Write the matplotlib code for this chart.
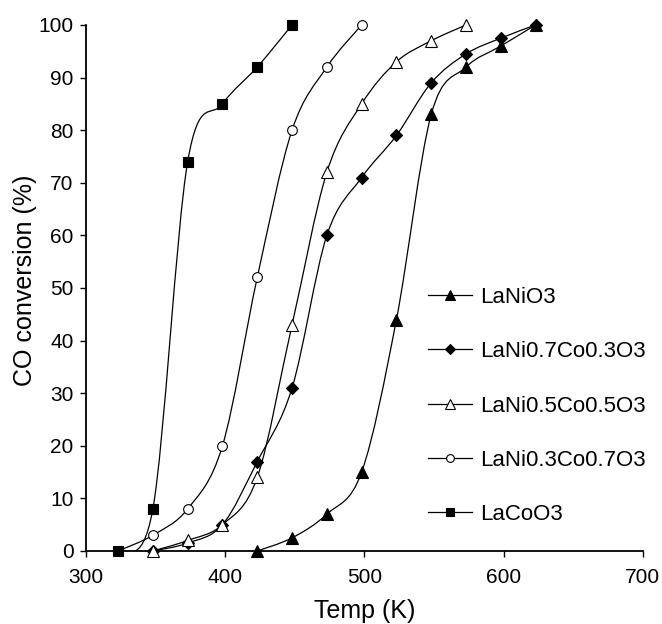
"""CO conversion vs temperature for LaNi(1-x)Co(x)O3 perovskites."""

import matplotlib
matplotlib.use("Agg")
import matplotlib.pyplot as plt
import numpy as np
from matplotlib.lines import Line2D
from matplotlib.patches import PathPatch
from matplotlib.path import Path

plt.rcParams["font.family"] = ["Liberation Sans", "DejaVu Sans"]

# --- data ---
temp_lanio3 = [423, 448, 473, 498, 523, 548, 573, 598, 623]
conv_lanio3 = [0, 2.5, 7, 15, 44, 83, 92, 96, 100]

temp_ni07 = [348, 373, 398, 423, 448, 473, 498, 523, 548, 573, 598, 623]
conv_ni07 = [0, 1.5, 5, 17, 31, 60, 71, 79, 89, 94.5, 97.5, 100]

temp_ni05 = [348, 373, 398, 423, 448, 473, 498, 523, 548, 573]
conv_ni05 = [0, 2, 5, 14, 43, 72, 85, 93, 97, 100]

temp_ni03 = [323, 348, 373, 398, 423, 448, 473, 498]
conv_ni03 = [0, 3, 8, 20, 52, 80, 92, 100]

temp_lacoo3 = [323, 348, 373, 398, 423, 448]
conv_lacoo3 = [0, 8, 74, 85, 92, 100]

labels = ["LaNiO3", "LaNi0.7Co0.3O3", "LaNi0.5Co0.5O3", "LaNi0.3Co0.7O3", "LaCoO3"]
x_ticks = [300, 400, 500, 600, 700]
y_ticks = list(range(0, 101, 10))


def smooth_path(xs, ys):
    """Bezier path through the points (Catmull-Rom style, like a spreadsheet 'smoothed line')."""
    pts = np.column_stack([xs, ys]).astype(float)
    verts = [pts[0]]
    codes = [Path.MOVETO]
    n = len(pts)
    for i in range(n - 1):
        p0 = pts[i - 1] if i > 0 else pts[i]
        p1 = pts[i]
        p2 = pts[i + 1]
        p3 = pts[i + 2] if i + 2 < n else pts[i + 1]
        c1 = p1 + (p2 - p0) / 6.0
        c2 = p2 - (p3 - p1) / 6.0
        verts += [c1, c2, p2]
        codes += [Path.CURVE4] * 3
    return Path(verts, codes)


series = [
    (temp_lanio3, conv_lanio3, "^", "black", 8.5),
    (temp_ni07, conv_ni07, "D", "black", 6.5),
    (temp_ni05, conv_ni05, "^", "white", 8.5),
    (temp_ni03, conv_ni03, "o", "white", 7),
    (temp_lacoo3, conv_lacoo3, "s", "black", 7),
]

fig = plt.figure(figsize=(6.62, 6.24), dpi=100)
ax = fig.add_axes([0.13, 0.117, 0.841, 0.843])

handles = []
for (xs, ys, marker, face, size), label in zip(series, labels):
    patch = PathPatch(smooth_path(xs, ys), facecolor="none", edgecolor="black",
                      linewidth=0.9, transform=ax.transData, zorder=2)
    ax.add_patch(patch)
    ax.plot(xs, ys, linestyle="none", marker=marker, markersize=size,
            markerfacecolor=face, markeredgecolor="black", markeredgewidth=0.8,
            clip_on=False, zorder=3)
    handles.append(Line2D([], [], color="black", linewidth=0.9, marker=marker,
                          markersize=size * 0.8, markerfacecolor=face,
                          markeredgecolor="black", markeredgewidth=0.8))

ax.set_xlim(300, 700)
ax.set_ylim(0, 100)
ax.set_xticks(x_ticks)
ax.set_yticks(y_ticks)
ax.spines["top"].set_visible(False)
ax.spines["right"].set_visible(False)
ax.spines["left"].set_linewidth(1.3)
ax.spines["bottom"].set_linewidth(1.3)
ax.tick_params(direction="out", length=4, width=1, labelsize=15, pad=5)
ax.tick_params(axis="x", pad=8)
ax.set_xlabel("Temp (K)", fontsize=18, labelpad=9)
ax.set_ylabel("CO conversion (%)", fontsize=18, labelpad=3)
ax.yaxis.set_label_coords(-0.088, 0.515)

ax.legend(handles, labels, loc="upper left", bbox_to_anchor=(0.614, 0.502),
          frameon=False, fontsize=16, handlelength=2.0, handletextpad=0.35,
          labelspacing=1.5, numpoints=1, borderaxespad=0, borderpad=0)

fig.savefig("out.png", dpi=100)
